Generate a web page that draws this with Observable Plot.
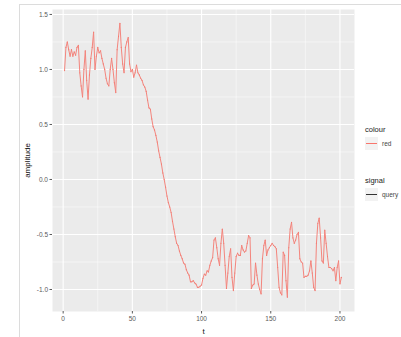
<!DOCTYPE html>
<html>
<head>
<meta charset="utf-8">
<script src="https://cdn.jsdelivr.net/npm/d3@7"></script>
<script src="https://cdn.jsdelivr.net/npm/@observablehq/plot@0.6"></script>
<style>
  html, body { margin: 0; padding: 0; background: #fff; }
  body { width: 401px; height: 337px; position: relative; overflow: hidden; font-family: "Liberation Sans", Arial, sans-serif; }
  #frame { position: absolute; left: 19px; top: 4px; width: 400px; height: 340px; border-top: 1px solid #dcdcdc; border-left: 1px solid #dcdcdc; }
  #chart { position: absolute; left: 0; top: 0; }
  #legend { position: absolute; left: 365px; top: 125px; color: #333; }
  .ltitle { font-size: 7.5px; margin-bottom: 3px; color: #222; }
  .lrow { display: flex; align-items: center; height: 13px; }
  .key { width: 13px; height: 13px; background: #f2f2f2; position: relative; margin-right: 4px; }
  .key span { position: absolute; left: 1px; right: 1px; top: 6px; height: 1px; }
  .ltext { font-size: 6.5px; color: #444; }
</style>
</head>
<body>
<div id="frame"></div>
<div id="chart"></div>
<div id="legend"></div>
<script>
// Signal values, t = 1 .. 201
const amplitude = [
  0.99, 1.20, 1.25, 1.18, 1.12, 1.18, 1.12, 1.16, 1.13, 1.20,
  1.22, 0.97, 0.85, 0.75, 1.00, 1.17, 0.90, 0.73, 0.95, 1.10,
  1.20, 1.34, 1.00, 1.12, 1.20, 1.15, 1.17, 1.10, 1.05, 1.00,
  0.92, 0.87, 0.85, 1.00, 1.10, 1.00, 0.88, 0.79, 1.18, 1.30,
  1.42, 1.20, 1.05, 0.97, 1.20, 1.25, 1.29, 1.05, 0.98, 1.00,
  0.93, 0.97, 1.04, 0.97, 0.95, 0.92, 0.90, 0.86, 0.84, 0.80,
  0.72, 0.65, 0.64, 0.55, 0.48, 0.45, 0.40, 0.34, 0.26, 0.20,
  0.14, 0.06, 0.00, -0.07, -0.15, -0.21, -0.25, -0.30, -0.38, -0.45,
  -0.52, -0.58, -0.60, -0.65, -0.69, -0.72, -0.76, -0.77, -0.82, -0.85,
  -0.87, -0.93, -0.93, -0.92, -0.94, -0.95, -0.98, -0.98, -0.97, -0.96,
  -0.90, -0.86, -0.87, -0.83, -0.84, -0.78, -0.74, -0.71, -0.55, -0.53,
  -0.62, -0.72, -0.78, -0.58, -0.45, -0.58, -0.78, -0.99, -0.85, -0.70,
  -0.63, -0.89, -1.01, -0.85, -0.70, -0.67, -0.69, -0.69, -0.60, -0.64,
  -0.66, -0.65, -0.58, -0.51, -0.53, -0.99, -0.96, -0.95, -0.76, -0.87,
  -0.95, -1.00, -1.04, -0.72, -0.60, -0.55, -0.69, -0.64, -0.62, -0.60,
  -0.58, -0.60, -0.61, -0.63, -0.80, -0.98, -1.03, -1.05, -0.66, -0.69,
  -0.92, -1.07, -0.62, -0.45, -0.39, -0.53, -0.58, -0.55, -0.50, -0.48,
  -0.72, -0.75, -0.76, -0.89, -0.88, -0.88, -0.87, -0.83, -0.74, -0.85,
  -0.98, -1.01, -0.58, -0.40, -0.35, -0.53, -0.74, -0.76, -0.46, -0.58,
  -0.70, -0.80, -0.80, -0.81, -0.83, -0.80, -0.92, -0.80, -0.74, -0.95,
  -0.89
];
const tStart = 1;
const xTicks = [0, 50, 100, 150, 200];
const xMinor = [25, 75, 125, 175];
const yTicks = [-1.0, -0.5, 0.0, 0.5, 1.0, 1.5];
const yMinor = [-0.75, -0.25, 0.25, 0.75, 1.25];
const legendGroups = [
  {title: "colour", label: "red", color: "#F8766D"},
  {title: "signal", label: "query", color: "#333333"}
];

const data = amplitude.map((v, i) => ({t: tStart + i, amplitude: v}));

const chart = Plot.plot({
  width: 360,
  height: 337,
  marginLeft: 52,
  marginRight: 6,
  marginTop: 9,
  marginBottom: 26,
  style: {fontFamily: "Liberation Sans, Arial, sans-serif", background: "transparent"},
  x: {domain: [-7.7, 210.5]},
  y: {domain: [-1.2, 1.545]},
  marks: [
    Plot.frame({fill: "#ebebeb", stroke: null}),
    Plot.gridX(xMinor, {stroke: "#fff", strokeOpacity: 1, strokeWidth: 0.5}),
    Plot.gridY(yMinor, {stroke: "#fff", strokeOpacity: 1, strokeWidth: 0.5}),
    Plot.gridX(xTicks, {stroke: "#fff", strokeOpacity: 1, strokeWidth: 1.1}),
    Plot.gridY(yTicks, {stroke: "#fff", strokeOpacity: 1, strokeWidth: 1.1}),
    Plot.line(data, {x: "t", y: "amplitude", stroke: "#F4857D", strokeWidth: 1}),
    Plot.dot(data, {x: "t", y: "amplitude", fill: "#F27A71", r: 0.6}),
    Plot.axisX(xTicks, {tickSize: 2.5, tickPadding: 2, fontSize: 6.5, color: "#5a5a5a",
      label: "t", labelAnchor: "center", labelArrow: "none", labelOffset: 22}),
    Plot.axisY(yTicks, {tickSize: 2.5, tickPadding: 2, fontSize: 6.5, color: "#5a5a5a",
      tickFormat: d => d.toFixed(1),
      label: "amplitude", labelAnchor: "center", labelArrow: "none", labelOffset: 28})
  ]
});
document.getElementById("chart").appendChild(chart);

// axis titles in dark grey and larger
chart.querySelectorAll("g[aria-label='x-axis label'] text, g[aria-label='y-axis label'] text").forEach(t => {
  t.setAttribute("fill", "#111");
  t.style.fontSize = "8px";
});

const legend = document.getElementById("legend");
legendGroups.forEach((g, i) => {
  const block = document.createElement("div");
  block.style.marginBottom = i === 0 ? "26px" : "0";
  block.innerHTML = `<div class="ltitle">${g.title}</div>
    <div class="lrow"><div class="key"><span style="background:${g.color}"></span></div><span class="ltext">${g.label}</span></div>`;
  legend.appendChild(block);
});
</script>
</body>
</html>
